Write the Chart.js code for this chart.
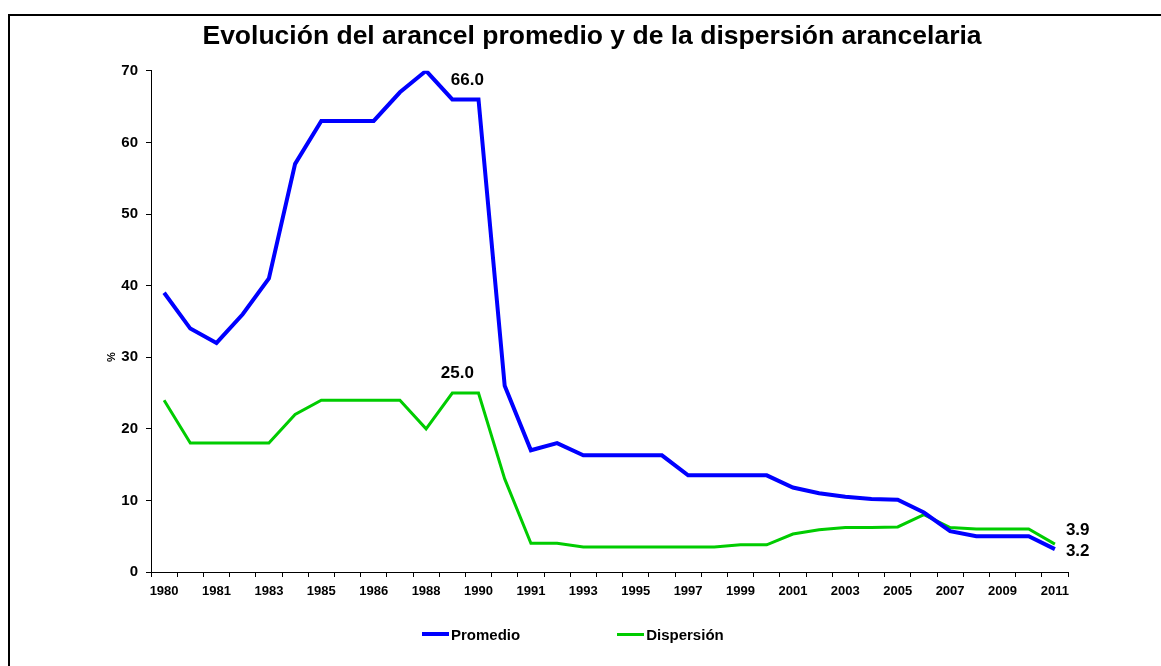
<!DOCTYPE html>
<html>
<head>
<meta charset="utf-8">
<script src="https://cdn.jsdelivr.net/npm/chart.js@4/dist/chart.umd.min.js"></script>
<style>
body { margin:0; background:#fff; overflow:hidden; width:1161px; height:666px; position:relative; font-family:"Liberation Sans", Arial, sans-serif; }
#frame { position:absolute; left:8px; top:14px; width:1200px; height:700px; border:2px solid #000; }
#chart { position:absolute; left:0; top:0; }
#legend { position:absolute; left:422px; top:624px; display:flex; align-items:center; height:20px; }
.item { display:flex; align-items:center; font-weight:bold; font-size:15px; color:#000; }
.item .line { width:27px; margin-right:2px; }
</style>
</head>
<body>
<div id="frame"></div>
<canvas id="chart" width="1161" height="666"></canvas>
<div id="legend"></div>
<script>

const years = ["1980","1981","1981","1982","1983","1984","1985","1985","1986","1987","1988","1989","1990","1990",
"1991","1992","1993","1994","1995","1996","1997","1998","1999","2000","2001","2002","2003","2004","2005","2006",
"2007","2008","2009","2010","2011"];

const promedio = [39,34,32,36,41,57,63,63,63,67,70,66,66,26,17,18,16.3,16.3,16.3,16.3,13.5,13.5,13.5,13.5,
11.8,11.0,10.5,10.2,10.1,8.3,5.7,5.0,5.0,5.0,3.2];

const dispersion = [24,18,18,18,18,22,24,24,24,24,20,25,25,13,4,4,3.5,3.5,3.5,3.5,3.5,3.5,3.8,3.8,
5.3,5.9,6.2,6.2,6.3,8.0,6.2,6.0,6.0,6.0,3.9];

const seriesNames = ["Promedio","Dispersión"];
const yTicks = [0,10,20,30,40,50,60,70];

const FONT = '"Liberation Sans", Arial, sans-serif';

// value labels shown on the chart: dataset, point index, offset
const marked = [
{ ds:0, i:11, dx:15, dy:-19, align:"center" },
{ ds:1, i:11, dx:5, dy:-20, align:"center" },
{ ds:1, i:34, dx:11, dy:-14, align:"left" },
{ ds:0, i:34, dx:11, dy:2, align:"left" }
];

const valueLabels = {
id:"valueLabels",
afterDatasetsDraw(chart){
const ctx = chart.ctx;
const x = chart.scales.x, y = chart.scales.y;
ctx.save();
ctx.fillStyle = "#000";
ctx.font = "bold 17px " + FONT;
ctx.textBaseline = "middle";
marked.forEach(m => {
const v = chart.data.datasets[m.ds].data[m.i];
ctx.textAlign = m.align;
ctx.fillText(v.toFixed(1), x.getPixelForValue(m.i) + m.dx, y.getPixelForValue(v) + m.dy);
});
// axis unit
ctx.translate(112, y.getPixelForValue(30));
ctx.rotate(-Math.PI/2);
ctx.font = "bold 11px " + FONT;
ctx.textAlign = "center";
ctx.fillText("%", 0, 0);
ctx.restore();
}
};

Chart.defaults.font.family = FONT;
Chart.defaults.color = "#000";

const chart = new Chart(document.getElementById("chart"), {
type:"line",
data:{
labels:years,
datasets:[{
label:seriesNames[0],
data:promedio,
borderColor:"#0000ff",
backgroundColor:"#0000ff",
borderWidth:4,
pointRadius:0,
tension:0
},{
label:seriesNames[1],
data:dispersion,
borderColor:"#00cc00",
backgroundColor:"#00cc00",
borderWidth:3,
pointRadius:0,
tension:0
}]
},
options:{
responsive:false,
animation:false,
layout:{ padding:{ top:0, right:93, bottom:60, left:116 } },
plugins:{
legend:{ display:false },
tooltip:{ enabled:false },
title:{
display:true,
text:"Evolución del arancel promedio y de la dispersión arancelaria",
font:{ size:26.5, weight:"bold" },
color:"#000",
padding:{ top:21, bottom:18 }
}
},
scales:{
x:{
offset:true,
grid:{ offset:true, drawOnChartArea:false, drawTicks:true, tickLength:5, color:"#000" },
border:{ color:"#000", width:1 },
ticks:{
autoSkip:false, maxRotation:0, minRotation:0, padding:7,
font:{ size:13, weight:"bold" }, color:"#000",
callback:function(v, i){ return i % 2 === 0 ? this.getLabelForValue(v) : ""; }
},
afterFit:s => { s.height = 34; }
},
y:{
min:0, max:70,
afterBuildTicks:s => { s.ticks = yTicks.map(v => ({ value:v })); },
grid:{ drawOnChartArea:false, tickLength:5, color:"#000" },
border:{ color:"#000", width:1 },
ticks:{ padding:8, font:{ size:15, weight:"bold" }, color:"#000" },
afterFit:s => { s.width = 35; }
}
}
},
plugins:[valueLabels]
});

const legend = document.getElementById("legend");
chart.data.datasets.forEach((d, k) => {
const item = document.createElement("div");
item.className = "item";
if (k === 0) item.style.marginRight = "97px";
item.innerHTML = `<div class="line" style="height:${d.borderWidth}px;background:${d.borderColor}"></div><span>${d.label}</span>`;
legend.appendChild(item);
});

</script>
</body>
</html>
